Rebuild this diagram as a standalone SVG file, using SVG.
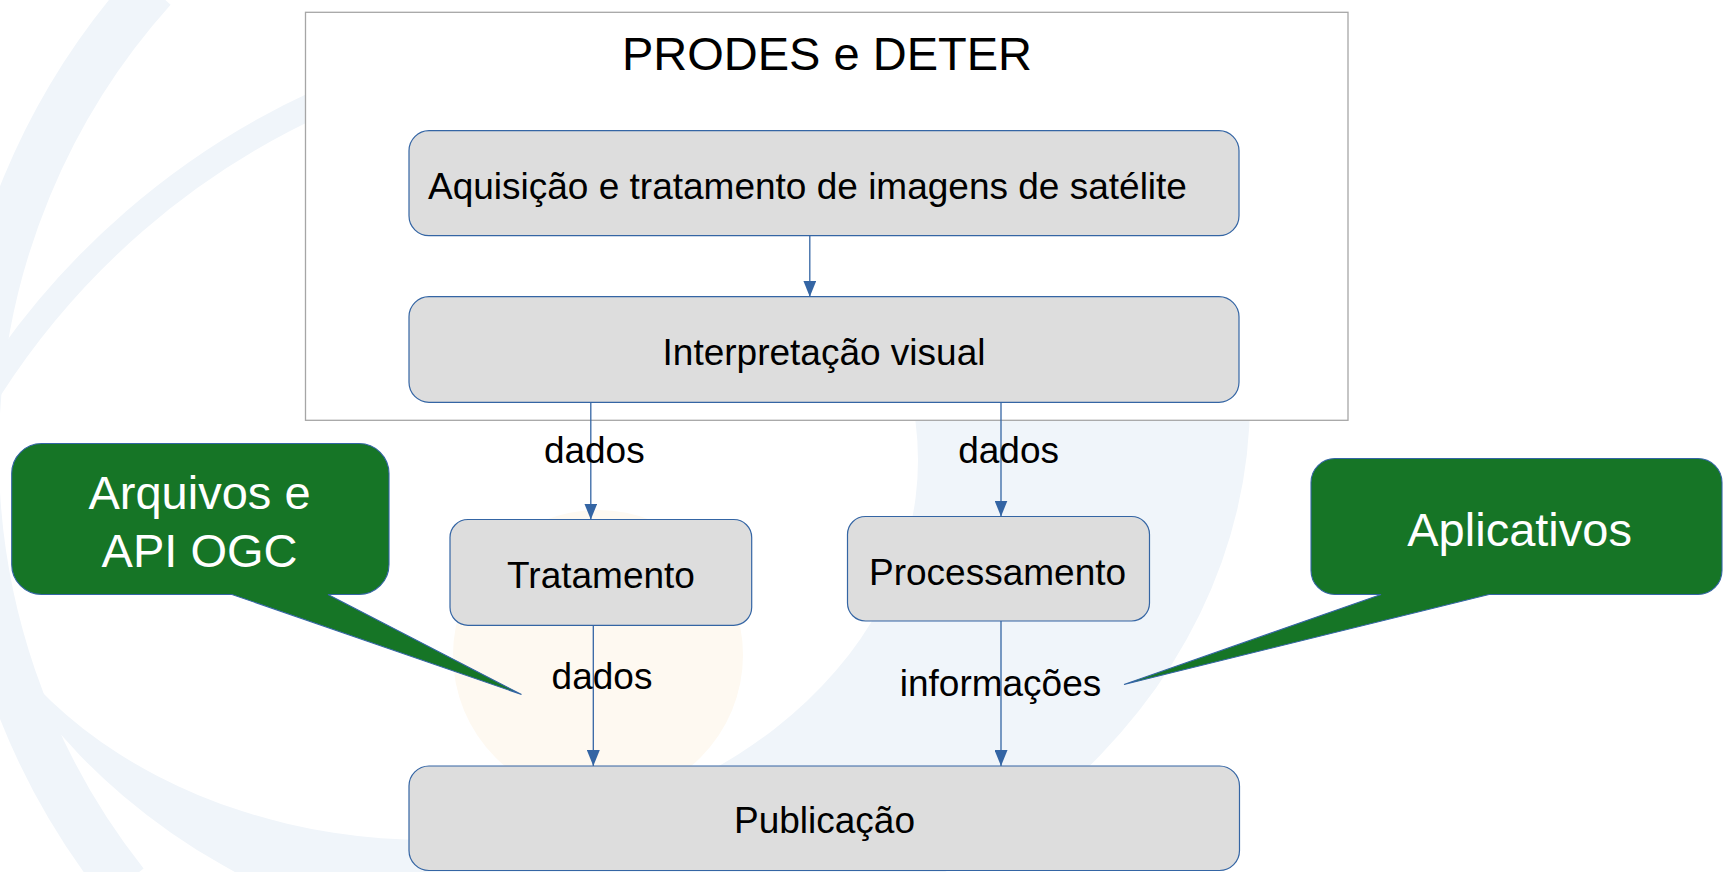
<svg xmlns="http://www.w3.org/2000/svg" width="1723" height="872" viewBox="0 0 1723 872">
  <style>
    .bg { fill: #f0f5fa; }
    .band { fill: none; stroke: #f0f5fa; }
    .frame { fill: #ffffff; stroke: #a6a6a6; stroke-width: 1.3; }
    .box { fill: #dddddd; stroke: #3465a4; stroke-width: 1.2; }
    .callout { fill: #167526; stroke: #3465a4; stroke-width: 1.1; }
    .t { font-family: "Liberation Sans", Arial, sans-serif; fill: #000000; }
    .m { font-size: 37px; }
    .big { font-size: 47px; }
    .w { fill: #ffffff; }
    .conn { stroke: #3465a4; stroke-width: 1.3; fill: none; marker-end: url(#arr); }
  </style>
  <defs>
    <marker id="arr" viewBox="0 0 16 13" refX="16" refY="6.5" markerWidth="16" markerHeight="13" markerUnits="userSpaceOnUse" orient="auto">
      <path d="M0,0 L16,6.5 L0,13 Z" fill="#3465a4"/>
    </marker>
    <clipPath id="wmclip">
      <path d="M305,12.3 H1723 V872 H0 V450 H305 Z"/>
    </clipPath>
  </defs>
  <rect width="1723" height="872" fill="#ffffff"/>
  <g id="watermark">
    <path class="bg" clip-path="url(#wmclip)" fill-rule="evenodd" d="M -70,400 A 660 560 0 1 0 1250,400 A 660 560 0 1 0 -70,400 Z M -60,460 A 489 380 0 1 0 918,460 A 489 380 0 1 0 -60,460 Z"/>
    <path class="band" stroke-width="50" d="M 152,-12 A 695 695 0 0 0 124,884"/>
    <path class="band" stroke-width="26" d="M 320,102 A 774 774 0 0 0 -10,388"/>
    <circle cx="598" cy="655" r="145" fill="#fef9f1"/>
  </g>
  <g id="prodes-deter">
    <rect class="frame" x="305.5" y="12.3" width="1042.5" height="408"/>
    <text class="t big" x="827" y="70" text-anchor="middle">PRODES e DETER</text>
  </g>
  <g id="aquisicao">
    <rect class="box" x="409" y="130.7" width="830" height="105" rx="20" ry="20"/>
    <text class="t m" x="428" y="198.5">Aquisição e tratamento de imagens de satélite</text>
  </g>
  <g id="interpretacao">
    <rect class="box" x="409" y="296.7" width="830" height="105.6" rx="20" ry="20"/>
    <text class="t m" x="824" y="365" text-anchor="middle">Interpretação visual</text>
  </g>
  <g id="tratamento">
    <rect class="box" x="450" y="519.5" width="301.7" height="105.8" rx="18" ry="18"/>
    <text class="t m" x="601" y="588" text-anchor="middle">Tratamento</text>
  </g>
  <g id="processamento">
    <rect class="box" x="847.5" y="516.5" width="302" height="104.5" rx="18" ry="18"/>
    <text class="t m" x="997.6" y="584.5" text-anchor="middle">Processamento</text>
  </g>
  <g id="publicacao">
    <rect class="box" x="409" y="766" width="830.5" height="104.5" rx="20" ry="20"/>
    <text class="t m" x="824.5" y="833" text-anchor="middle">Publicação</text>
  </g>
  <g id="connectors">
    <line class="conn" x1="809.8" y1="235.7" x2="809.8" y2="296.7"/>
    <line class="conn" x1="590.8" y1="402.3" x2="590.8" y2="519.5"/>
    <line class="conn" x1="1001" y1="402.3" x2="1001" y2="516.5"/>
    <line class="conn" x1="593.3" y1="625.3" x2="593.3" y2="766"/>
    <line class="conn" x1="1001" y1="621" x2="1001" y2="766"/>
    <text class="t m" x="594.3" y="462.7" text-anchor="middle">dados</text>
    <text class="t m" x="1008.6" y="462.7" text-anchor="middle">dados</text>
    <text class="t m" x="602" y="689.3" text-anchor="middle">dados</text>
    <text class="t m" x="1000.5" y="696" text-anchor="middle">informações</text>
  </g>
  <g id="callout-arquivos">
    <path class="callout" d="M 41.7,443.5 H 359 A 30 30 0 0 1 389,473.5 V 564.5 A 30 30 0 0 1 359,594.5 H 328 L 521.5,694.5 L 232,594.5 H 41.7 A 30 30 0 0 1 11.7,564.5 V 473.5 A 30 30 0 0 1 41.7,443.5 Z"/>
    <text class="t big w" x="199.5" y="509.3" text-anchor="middle">Arquivos e</text>
    <text class="t big w" x="199.5" y="567" text-anchor="middle">API OGC</text>
  </g>
  <g id="callout-aplicativos">
    <path class="callout" d="M 1335,458.5 H 1698 A 24 24 0 0 1 1722,482.5 V 570.5 A 24 24 0 0 1 1698,594.5 H 1489 L 1124,684.5 L 1381,594.5 H 1335 A 24 24 0 0 1 1311,570.5 V 482.5 A 24 24 0 0 1 1335,458.5 Z"/>
    <text class="t big w" x="1519.6" y="546" text-anchor="middle">Aplicativos</text>
  </g>
</svg>
